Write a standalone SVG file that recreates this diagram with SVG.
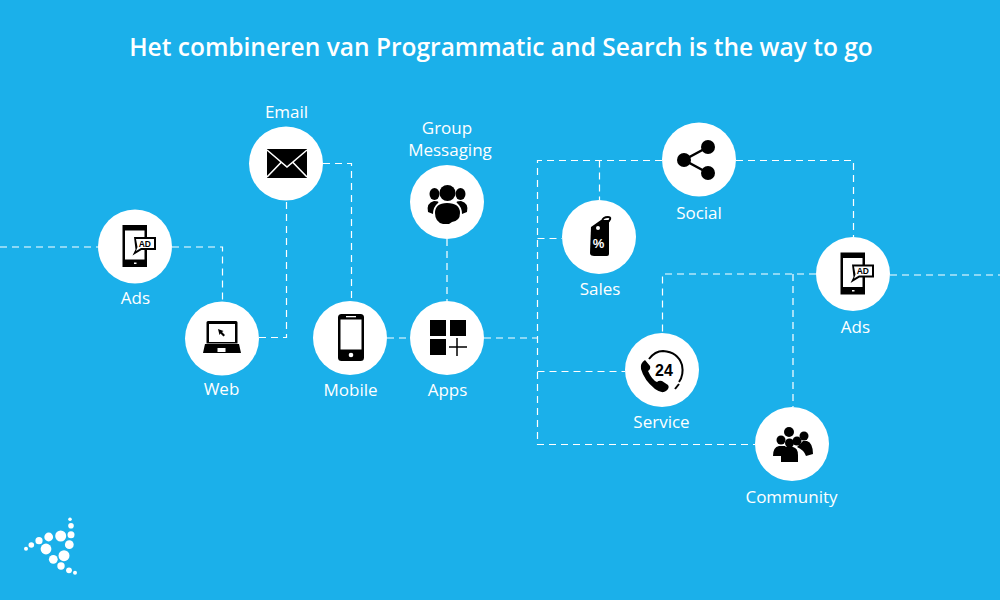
<svg xmlns="http://www.w3.org/2000/svg" width="1000" height="600" viewBox="0 0 1000 600">
<style>
.c{fill:#fff}
.t{fill:#fff;font-family:"Open Sans","Liberation Sans",sans-serif;font-size:17px;text-anchor:middle}
.k{fill:#000}
.w{fill:#fff}
.l{fill:none;stroke:#fff;stroke-width:1.2;stroke-dasharray:7 5}
.s{fill:none;stroke:#000}
</style>
<defs>
<g id="adsIcon">
<path class="k" d="M-12.500-21.500h24.500v42h-24.500z"/>
<rect class="w" x="-10" y="-16" width="19.500" height="29"/>
<rect class="w" x="-1" y="16" width="2.500" height="1.500"/>
<path class="k" d="M-1-9.500h22v13h-14.500l-9 5.500 3-6z"/>
<path class="w" d="M1-7.500h18v9h-13l-5 3 1.500-4z"/>
<text x="9.800" y="0" font-family="'Liberation Sans',sans-serif" font-size="8.500" font-weight="700" text-anchor="middle" fill="#000">AD</text>
</g>
</defs>
<rect width="1000" height="600" fill="#1bb0ea"/>
<text x="501" y="56" fill="#fff" font-family="'Open Sans','Liberation Sans',sans-serif" font-size="24.500" font-weight="600" text-anchor="middle">Het combineren van Programmatic and Search is the way to go</text>
<g id="connectors">
<path class="l" d="M0 247H98"/>
<path class="l" d="M172 247H222.500V302"/>
<path class="l" d="M259 337.500H286.500V200"/>
<path class="l" d="M323 163.500H351.500V301"/>
<path class="l" d="M387 338H410"/>
<path class="l" d="M447 239V301"/>
<path class="l" d="M484 338H537.500"/>
<path class="l" d="M662 160.500H537.500V444.500H755"/>
<path class="l" d="M537.500 371.500H625"/>
<path class="l" d="M537.500 238.500H562"/>
<path class="l" d="M599.500 160.500V200"/>
<path class="l" d="M736 160.500H853.500V237"/>
<path class="l" d="M816 274H662.500V333"/>
<path class="l" d="M793 274V407"/>
<path class="l" d="M890 275H1000"/>
</g>
<g id="node-ads-left">
<circle class="c" cx="135" cy="246.500" r="37"/>
<use href="#adsIcon" x="135" y="246.500"/>
<text class="t" x="135.500" y="304">Ads</text>
</g>
<g id="node-web">
<circle class="c" cx="222" cy="338.500" r="37"/>
<path class="k" d="M206.500 322.500q0-1.500 1.500-1.500h28q1.500 0 1.500 1.500v21h-31zM205 344h34l2 9h-38z"/>
<rect class="w" x="209" y="324" width="26" height="18"/>
<rect class="w" x="217.500" y="348" width="8" height="4"/>
<path class="k" d="M218 329l5.500 2-1.500 1 3 3-1.500 1.500-3-3-1 1.500z"/>
<text class="t" x="221.500" y="395">Web</text>
</g>
<g id="node-email">
<circle class="c" cx="286" cy="163.500" r="37"/>
<path class="k" d="M267 149h40v29h-40z"/>
<path d="M267 150l20 17 20-17M267 177l14-14.500M307 177l-14-14.500" fill="none" stroke="#fff" stroke-width="1.600"/>
<text class="t" x="286.500" y="118">Email</text>
</g>
<g id="node-mobile">
<circle class="c" cx="350" cy="338" r="37"/>
<rect class="k" x="338" y="314" width="26" height="47" rx="3.500"/>
<rect class="w" x="340.500" y="319.500" width="21" height="30"/>
<rect class="w" x="346" y="316" width="10" height="1.300"/>
<circle class="w" cx="351" cy="355" r="2.300"/>
<text class="t" x="350.500" y="396">Mobile</text>
</g>
<g id="node-apps">
<circle class="c" cx="447" cy="338" r="37"/>
<path class="k" d="M430 320h16v16h-16zM450 320h16v16h-16zM430 339h16v16h-16z"/>
<path class="s" stroke-width="1.500" d="M457 338v18M449 347h18"/>
<text class="t" x="447.500" y="396">Apps</text>
</g>
<g id="node-group">
<circle class="c" cx="447" cy="202" r="37"/>
<circle class="k" cx="447.500" cy="193" r="8"/>
<ellipse class="k" cx="434.500" cy="194" rx="5" ry="6"/>
<ellipse class="k" cx="460.500" cy="194" rx="5" ry="6"/>
<path class="k" d="M428 212q-2-9 6-11 6 0 4 2-5 4-5 11z"/>
<path class="k" d="M467 212q2-9-6-11-6 0-4 2 5 4 5 11z"/>
<path class="k" d="M435 213q0-10 12-10 13 0 13 10 0 8-8 9l-3 2h-6q-8-2-8-11z"/>
<text class="t" x="447" y="134">Group</text>
<text class="t" x="450" y="156">Messaging</text>
</g>
<g id="node-sales">
<circle class="c" cx="599" cy="237" r="37"/>
<path class="k" d="M591 227l10-7h8v34q0 2-2 2h-13q-4 0-4-3z" transform="translate(0 0)"/>
<path class="s" stroke-width="2" d="M597 229q8-2 12-8 3-4-1-4-5 0-6 4"/>
<circle class="w" cx="598" cy="228" r="2"/>
<text x="598.500" y="248" font-family="'Liberation Sans',sans-serif" font-size="13" font-weight="700" text-anchor="middle" fill="#fff">%</text>
<text class="t" x="600" y="295">Sales</text>
</g>
<g id="node-social">
<circle class="c" cx="699" cy="159.500" r="37"/>
<path class="s" stroke-width="2.500" d="M708 147l-24 13 24 13"/>
<circle class="k" cx="708" cy="147" r="7"/>
<circle class="k" cx="684" cy="160" r="7"/>
<circle class="k" cx="708" cy="173" r="7"/>
<text class="t" x="699" y="219">Social</text>
</g>
<g id="node-ads-right">
<circle class="c" cx="853" cy="274" r="37"/>
<use href="#adsIcon" x="853" y="274"/>
<text class="t" x="855.500" y="333">Ads</text>
</g>
<g id="node-service">
<circle class="c" cx="662" cy="370" r="37"/>
<path class="k" d="M645 360q-5 3-4 9 3 11 14 20 7 5 11 2 4-3 2-6l-6-4q-3-1-5 1-5-2-9-11 3-2 2-5z" transform="translate(0 0)"/>
<path fill="none" stroke="#000" stroke-width="2" d="M649 359q6-8 14-8 15 1 19 14 2 10-3 17"/>
<path class="s" stroke-width="2" d="M679 384l-4 5"/>
<text x="664" y="376" font-family="'Liberation Sans',sans-serif" font-size="16" font-weight="700" text-anchor="middle" fill="#000">24</text>
<text class="t" x="661.500" y="428">Service</text>
</g>
<g id="node-community">
<circle class="c" cx="792" cy="444" r="37"/>
<circle class="k" cx="789" cy="432" r="5"/>
<circle class="k" cx="804" cy="436" r="4.500"/>
<circle class="k" cx="781" cy="440" r="4.500"/>
<circle class="k" cx="797" cy="441" r="4.500"/>
<path class="k" d="M773 456q0-9 6-10h6l3 3q-5 2-6 7zM797 447l6-6h4q6 2 6 13l-7 2q-2-6-9-9z"/>
<circle class="k" cx="789.500" cy="443" r="4.500"/>
<path class="k" d="M781 462v-7q0-7 5-8h7q5 1 5 8v7z"/>
<text class="t" x="791.500" y="503">Community</text>
</g>
<g id="logo" class="c">
<circle cx="70" cy="519.300" r="1.800"/><circle cx="71" cy="525.700" r="2.800"/><circle cx="71" cy="534.700" r="3.500"/>
<circle cx="60.700" cy="536" r="5.500"/><circle cx="48.700" cy="537" r="4.400"/><circle cx="39" cy="540.700" r="3.600"/>
<circle cx="31.300" cy="545" r="2.800"/><circle cx="26" cy="548.700" r="2"/><circle cx="46" cy="549" r="5.400"/>
<circle cx="69.300" cy="544.700" r="4.400"/><circle cx="64" cy="555.700" r="5.500"/><circle cx="53.300" cy="559.300" r="4.400"/>
<circle cx="61" cy="566" r="3.700"/><circle cx="69" cy="570.300" r="2.900"/><circle cx="75" cy="572.700" r="2"/>
</g>
</svg>
